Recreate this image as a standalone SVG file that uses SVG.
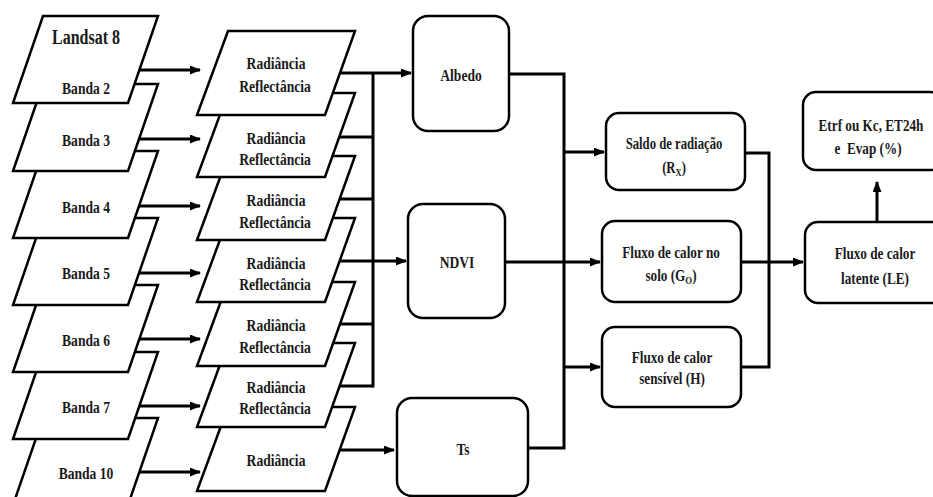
<svg xmlns="http://www.w3.org/2000/svg" width="933" height="497" viewBox="0 0 933 497">
<style>
.sh{fill:#fff;stroke:#000;stroke-width:2.5;stroke-linejoin:miter}
.bx{fill:#fff;stroke:#000;stroke-width:2.5}
.t{font-family:"Liberation Serif","Times New Roman",serif;font-weight:bold;font-size:17px;fill:#1a1a1a;text-anchor:middle}
.s{font-size:16.5px}
.c{fill:none;stroke:#000;stroke-width:3}
.a{marker-end:url(#ah)}
</style>
<defs>
<marker id="ah" markerUnits="userSpaceOnUse" markerWidth="11" markerHeight="9" refX="10" refY="4.5" orient="auto">
<path d="M0,0 L11,4.5 L0,9 z" fill="#000"/>
</marker>
</defs>
<rect width="933" height="497" fill="#fff"/>
<!-- Landsat bands (back to front) -->
<g id="banda10"><polygon class="sh" points="43,418 158,418 128,505 13,505"/><text class="t" transform="translate(86,479) scale(0.8,1)">Banda 10</text></g>
<g id="banda7"><polygon class="sh" points="43,352 158,352 128,439 13,439"/><text class="t" transform="translate(86,413) scale(0.8,1)">Banda 7</text></g>
<g id="banda6"><polygon class="sh" points="43,285 158,285 128,372 13,372"/><text class="t" transform="translate(86,346) scale(0.8,1)">Banda 6</text></g>
<g id="banda5"><polygon class="sh" points="43,218 158,218 128,305 13,305"/><text class="t" transform="translate(86,279) scale(0.8,1)">Banda 5</text></g>
<g id="banda4"><polygon class="sh" points="43,151 158,151 128,238 13,238"/><text class="t" transform="translate(86,213) scale(0.8,1)">Banda 4</text></g>
<g id="banda3"><polygon class="sh" points="43,84 158,84 128,171 13,171"/><text class="t" transform="translate(86,146) scale(0.8,1)">Banda 3</text></g>
<g id="banda2"><polygon class="sh" points="43,16 158,16 128,103 13,103"/><text class="t" transform="translate(86,44) scale(0.8,1)" style="font-size:20px">Landsat 8</text><text class="t" transform="translate(86,94) scale(0.8,1)">Banda 2</text></g>
<!-- Radiancia (back to front) -->
<g id="rad7"><polygon class="sh" points="228,407 355,407 325,491 197,491"/><text class="t" transform="translate(276,466) scale(0.8,1)">Radiância</text></g>
<g id="rad6"><polygon class="sh" points="228,343 355,343 325,427 197,427"/><text class="t" transform="translate(276,393) scale(0.8,1)">Radiância</text><text class="t" transform="translate(275,414) scale(0.8,1)">Reflectância</text></g>
<g id="rad5"><polygon class="sh" points="228,282 355,282 325,366 197,366"/><text class="t" transform="translate(276,331) scale(0.8,1)">Radiância</text><text class="t" transform="translate(275,353) scale(0.8,1)">Reflectância</text></g>
<g id="rad4"><polygon class="sh" points="228,218 355,218 325,302 197,302"/><text class="t" transform="translate(276,269) scale(0.8,1)">Radiância</text><text class="t" transform="translate(275,290) scale(0.8,1)">Reflectância</text></g>
<g id="rad3"><polygon class="sh" points="228,156 355,156 325,240 197,240"/><text class="t" transform="translate(276,206) scale(0.8,1)">Radiância</text><text class="t" transform="translate(275,228) scale(0.8,1)">Reflectância</text></g>
<g id="rad2"><polygon class="sh" points="228,93 355,93 325,177 197,177"/><text class="t" transform="translate(276,144) scale(0.8,1)">Radiância</text><text class="t" transform="translate(275,165) scale(0.8,1)">Reflectância</text></g>
<g id="rad1"><polygon class="sh" points="228,31 355,31 325,115 197,115"/><text class="t" transform="translate(276,69) scale(0.8,1)">Radiância</text><text class="t" transform="translate(275,92) scale(0.8,1)">Reflectância</text></g>
<!-- Boxes -->
<g id="albedo"><rect class="bx" x="413" y="16" width="96" height="115" rx="15"/><text class="t" transform="translate(461,81) scale(0.8,1)">Albedo</text></g>
<g id="ndvi"><rect class="bx" x="408" y="204" width="97" height="114" rx="15"/><text class="t" transform="translate(457,268) scale(0.8,1)">NDVI</text></g>
<g id="ts"><rect class="bx" x="397" y="398" width="131" height="98" rx="15"/><text class="t" transform="translate(463,455) scale(0.8,1)">Ts</text></g>
<g id="saldo"><rect class="bx" x="606" y="113" width="139" height="77" rx="13"/><text class="t s" transform="translate(674,149) scale(0.77,1)">Saldo de radiação</text><text class="t s" transform="translate(674,173) scale(0.77,1)">(R<tspan font-size="11" dy="3">X</tspan><tspan dy="-3">)</tspan></text></g>
<g id="solo"><rect class="bx" x="602" y="221" width="139" height="81" rx="13"/><text class="t s" transform="translate(671,258) scale(0.8,1)">Fluxo de calor no</text><text class="t s" transform="translate(671,281) scale(0.8,1)">solo (G<tspan font-size="11" dy="3">O</tspan><tspan dy="-3">)</tspan></text></g>
<g id="sensivel"><rect class="bx" x="602" y="327" width="139" height="80" rx="13"/><text class="t s" transform="translate(672,363) scale(0.8,1)">Fluxo de calor</text><text class="t s" transform="translate(672,384) scale(0.8,1)">sensível (H)</text></g>
<g id="latente"><rect class="bx" x="805" y="222" width="140" height="81" rx="13"/><text class="t s" transform="translate(875,259) scale(0.8,1)">Fluxo de calor</text><text class="t s" transform="translate(875,284) scale(0.8,1)">latente (LE)</text></g>
<g id="etrf"><rect class="bx" x="803" y="92" width="140" height="78" rx="13"/><text class="t s" transform="translate(871,131) scale(0.8,1)">Etrf ou Kc, ET24h</text><text class="t s" transform="translate(868,154) scale(0.8,1)" xml:space="preserve">e  Evap (%)</text></g>
<!-- Connectors -->
<g id="connectors">
<line class="c a" x1="139" y1="70" x2="200" y2="70"/>
<line class="c a" x1="139" y1="139" x2="200" y2="139"/>
<line class="c a" x1="139" y1="206" x2="200" y2="206"/>
<line class="c a" x1="139" y1="273" x2="200" y2="273"/>
<line class="c a" x1="139" y1="339" x2="200" y2="339"/>
<line class="c a" x1="139" y1="406" x2="200" y2="406"/>
<line class="c a" x1="139" y1="472" x2="200" y2="472"/>
<line class="c a" x1="340" y1="73" x2="411" y2="73"/>
<line class="c" x1="339" y1="137" x2="373" y2="137"/>
<line class="c" x1="339" y1="199" x2="373" y2="199"/>
<line class="c a" x1="340" y1="261" x2="406" y2="261"/>
<line class="c" x1="340" y1="324" x2="373" y2="324"/>
<line class="c" x1="340" y1="386" x2="373" y2="386"/>
<line class="c" x1="373" y1="73" x2="373" y2="387.5"/>
<line class="c a" x1="340" y1="450" x2="394" y2="450"/>
<polyline class="c" points="509,74 564,74 564,448 528,448"/>
<line class="c a" x1="564" y1="152" x2="604" y2="152"/>
<line class="c a" x1="505" y1="262" x2="600" y2="262"/>
<line class="c a" x1="564" y1="367" x2="600" y2="367"/>
<polyline class="c" points="745,153 769,153 769,367 741,367"/>
<line class="c a" x1="741" y1="262" x2="803" y2="262"/>
<line class="c a" x1="877" y1="222" x2="877" y2="182"/>
</g>
</svg>
